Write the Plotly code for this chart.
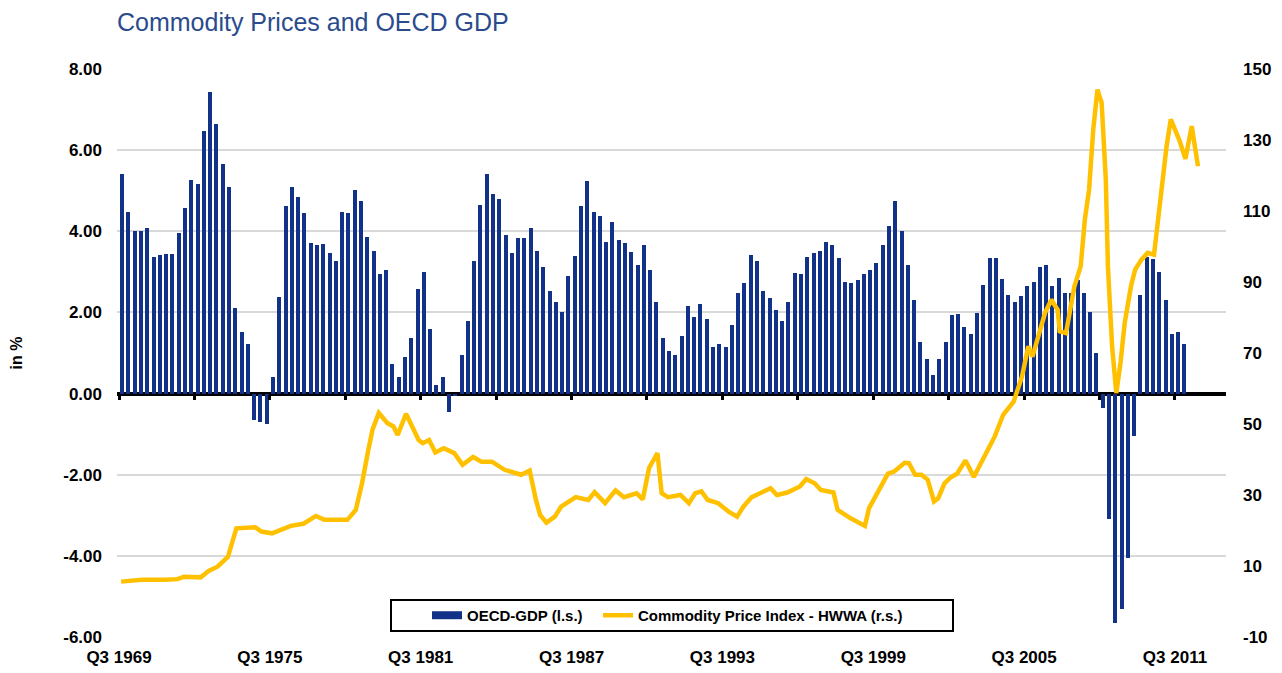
import plotly.graph_objects as go

# ---------------- data ----------------
# OECD GDP, y/y in %, quarterly from Q3 1969 to Q4 2011 (left scale)
gdp = [
    5.41, 4.47, 4.00, 4.00, 4.07, 3.36, 3.41, 3.43, 3.43, 3.95,
    4.57, 5.26, 5.16, 6.47, 7.43, 6.64, 5.65, 5.09, 2.10, 1.51,
    1.21, -0.65, -0.70, -0.75, 0.40, 2.37, 4.62, 5.09, 4.84, 4.44,
    3.70, 3.65, 3.68, 3.46, 3.28, 4.47, 4.44, 5.01, 4.74, 3.85,
    3.51, 2.94, 3.04, 0.72, 0.42, 0.89, 1.36, 2.57, 2.99, 1.58,
    0.22, 0.40, -0.45, -0.05, 0.96, 1.80, 3.28, 4.64, 5.41, 4.91,
    4.79, 3.90, 3.46, 3.83, 3.83, 4.07, 3.51, 3.11, 2.54, 2.25,
    2.02, 2.91, 3.38, 4.62, 5.23, 4.47, 4.37, 3.73, 4.22, 3.78,
    3.70, 3.48, 3.16, 3.65, 3.04, 2.25, 1.38, 1.06, 0.94, 1.41,
    2.17, 1.88, 2.22, 1.83, 1.14, 1.23, 1.14, 1.70, 2.49, 2.72,
    3.41, 3.28, 2.54, 2.35, 2.05, 1.80, 2.25, 2.96, 2.94, 3.36,
    3.46, 3.51, 3.73, 3.65, 3.33, 2.74, 2.72, 2.81, 2.94, 3.04,
    3.21, 3.65, 4.12, 4.74, 4.00, 3.16, 2.30, 1.26, 0.84, 0.47,
    0.84, 1.26, 1.93, 1.95, 1.63, 1.48, 1.98, 2.67, 3.33, 3.33,
    2.83, 2.44, 2.26, 2.40, 2.66, 2.76, 3.11, 3.16, 2.64, 2.86,
    2.49, 2.49, 2.79, 2.49, 2.00, 1.01, -0.35, -3.10, -5.65, -5.30,
    -4.05, -1.05, 2.42, 3.36, 3.31, 2.99, 2.30, 1.46, 1.51, 1.21,
]
gdp_start_year = 1969
gdp_start_quarter = 3

# Commodity price index HWWA (right scale); months counted from July 1969
price_month = [
    1, 11, 22, 28, 31, 39, 43, 47, 52, 55, 56, 65, 68, 73, 78, 82, 88, 94, 98, 109,
    113, 116, 119, 121, 124, 128, 131, 133, 137, 140, 143, 145, 148, 151, 155, 160, 164, 169, 173, 178,
    184, 192, 196, 199, 201, 204, 208, 211, 218, 224, 227, 232, 237, 241, 247, 250, 253, 257, 259, 262,
    265, 268, 272, 275, 278, 281, 286, 291, 295, 298, 302, 306, 311, 314, 319, 325, 328, 332, 335, 341,
    343, 349, 356, 358, 362, 367, 370, 375, 377, 380, 383, 386, 389, 391, 394, 397, 400, 404, 408, 413,
    418, 422, 427, 431, 434, 436, 439, 442, 445, 448, 449, 452, 454, 456, 459, 461, 463, 465, 467, 469,
    471, 472, 474, 476, 478, 480, 483, 485, 488, 491, 494, 496, 498, 500, 502, 506, 509, 512, 515,
]
price = [
    5.6, 6.1, 6.1, 6.3, 7.0, 6.8, 8.7, 9.8, 12.6, 19.2, 20.6, 20.9, 19.7, 19.2, 20.4, 21.3, 21.9, 24.1, 23.0, 23.0,
    25.8, 33.3, 42.7, 48.4, 53.1, 50.3, 49.3, 46.9, 52.9, 49.3, 45.5, 44.6, 45.5, 42.0, 43.2, 41.8, 38.5, 40.7, 39.4, 39.4,
    37.1, 35.7, 36.9, 28.6, 24.4, 22.2, 23.9, 26.7, 29.4, 28.6, 30.8, 27.7, 31.3, 29.4, 30.5, 28.8, 37.6, 41.8, 30.5, 29.4,
    29.8, 30.0, 27.7, 30.5, 31.0, 28.6, 27.7, 25.3, 23.9, 26.7, 29.4, 30.5, 31.9, 30.0, 30.7, 32.4, 34.5, 33.3, 31.4, 30.7,
    25.8, 23.5, 21.3, 26.3, 30.5, 36.0, 36.6, 39.1, 39.0, 35.7, 35.7, 34.3, 28.2, 29.1, 33.3, 35.0, 36.0, 39.7, 35.1, 40.5,
    46.5, 52.6, 56.3, 63.4, 71.9, 69.0, 74.7, 81.3, 85.0, 82.2, 76.1, 75.6, 82.2, 88.8, 94.4, 107.6, 116.0, 132.9, 144.2, 140.5,
    118.8, 94.4, 71.9, 58.7, 67.2, 78.4, 88.8, 93.5, 96.3, 98.2, 97.7, 107.6, 119.8, 128.2, 135.8, 130.1, 124.7, 133.9, 122.6,
]

x_label_years = [1969, 1975, 1981, 1987, 1993, 1999, 2005, 2011]
left_ticks = [-6, -4, -2, 0, 2, 4, 6, 8]
right_ticks = [-10, 10, 30, 50, 70, 90, 110, 130, 150]

title_text = "Commodity Prices and OECD GDP"
gdp_name = "OECD-GDP (l.s.)"
price_name = "Commodity Price Index - HWWA (r.s.)"

# ---------------- build ----------------
start = gdp_start_year + (gdp_start_quarter - 1) / 4.0           # 1969.5 = start of Q3 1969
bar_x = [start + 0.125 + 0.25 * i for i in range(len(gdp))]
bar_q = []
for i in range(len(gdp)):
    q = gdp_start_quarter - 1 + i
    bar_q.append(f"Q{q % 4 + 1} {gdp_start_year + q // 4}")
price_x = [start + m / 12.0 for m in price_month]

NAVY = "#12328A"
GOLD = "#FFC000"
FONT = "Liberation Sans, Arial, sans-serif"
PAGE = 8   # default body margin of the html page

fig = go.Figure()
fig.add_trace(go.Bar(x=bar_x, y=gdp, width=0.16, marker=dict(color=NAVY, line=dict(width=0)),
                     name=gdp_name, showlegend=False, customdata=bar_q,
                     hovertemplate="%{customdata}: %{y:.2f}<extra></extra>", xaxis="x", yaxis="y"))
fig.add_trace(go.Scatter(x=price_x, y=price, mode="lines", line=dict(color=GOLD, width=4.5),
                         name=price_name, showlegend=False, xaxis="x", yaxis="y2"))
# legend entries
fig.add_trace(go.Scatter(x=[None], y=[None], mode="lines", line=dict(color=NAVY, width=8),
                         name=gdp_name, xaxis="x", yaxis="y", legend="legend"))
fig.add_trace(go.Scatter(x=[None], y=[None], mode="lines", line=dict(color=GOLD, width=4.5),
                         name=price_name, xaxis="x", yaxis="y2", legend="legend2"))
fig.add_trace(go.Scatter(x=[None], y=[None], xaxis="x2", yaxis="y", showlegend=False))

xrange = [1969.42, 2013.53]
x_tickvals = [y + 0.5 for y in x_label_years]
x_ticktext = [f"Q3 {y}" for y in x_label_years]
minor_ticks = [start + 3 * k for k in range(15)]

TICKFONT = dict(family=FONT, size=17, color="black", weight="bold")
LEGFONT = dict(family=FONT, size=15, color="black", weight="bold")
leg_y = (637 - 615.5) / 567.5

fig.update_layout(
    width=1282, height=673,
    margin=dict(l=117 - PAGE, r=1282 - 1226 + PAGE, t=69 - PAGE, b=673 - 637 + PAGE),
    paper_bgcolor="white", plot_bgcolor="white",
    font=dict(family=FONT, color="black"),
    title=dict(text=title_text, x=(117 - PAGE) / 1282, xanchor="left", xref="container",
               y=1 - (22 - PAGE) / 673, yanchor="middle", yref="container",
               pad=dict(l=0, r=0, t=0, b=0),
               font=dict(family=FONT, size=25, color="#2A4B8D")),
    bargap=0,
    xaxis=dict(range=xrange, tickvals=x_tickvals, ticktext=x_ticktext, showgrid=False,
               zeroline=False, showline=False, ticks="", automargin=False,
               tickfont=TICKFONT, ticklabelstandoff=8),
    xaxis2=dict(range=xrange, overlaying="x", anchor="free", position=6 / 14, automargin=False,
                tickvals=minor_ticks, ticks="outside", ticklen=5, tickwidth=3, tickcolor="black",
                showticklabels=False, showgrid=False, zeroline=False, showline=False),
    yaxis=dict(range=[-6, 8], tickvals=left_ticks,
               ticktext=[f"{v:.2f}" for v in left_ticks], showgrid=True, automargin=False,
               gridcolor="#D9D9D9", gridwidth=2, zeroline=True, zerolinecolor="black",
               zerolinewidth=4, showline=False, ticks="",
               tickfont=TICKFONT, ticklabelstandoff=14,
               title=dict(text="in %", standoff=39,
                          font=dict(family=FONT, size=16, color="black", weight="bold"))),
    yaxis2=dict(range=[-10, 150], tickvals=right_ticks, ticktext=[str(v) for v in right_ticks],
                overlaying="y", side="right", automargin=False,
                showgrid=False, zeroline=False, showline=False, ticks="",
                tickfont=TICKFONT, ticklabelstandoff=16),
    legend=dict(orientation="h", x=(427 - 117) / 1109, xanchor="left",
                y=leg_y, yanchor="middle",
                bgcolor="rgba(0,0,0,0)", borderwidth=0, font=LEGFONT),
    legend2=dict(orientation="h", x=(598 - 117) / 1109, xanchor="left",
                 y=leg_y, yanchor="middle",
                 bgcolor="rgba(0,0,0,0)", borderwidth=0, font=LEGFONT),
    shapes=[dict(type="rect", xref="paper", yref="paper",
                 x0=(391 - 117) / 1109, x1=(953 - 117) / 1109,
                 y0=(637 - 631) / 567.5, y1=(637 - 600) / 567.5,
                 line=dict(color="black", width=2), fillcolor="white", layer="above")],
)

fig.write_html("out.html")
